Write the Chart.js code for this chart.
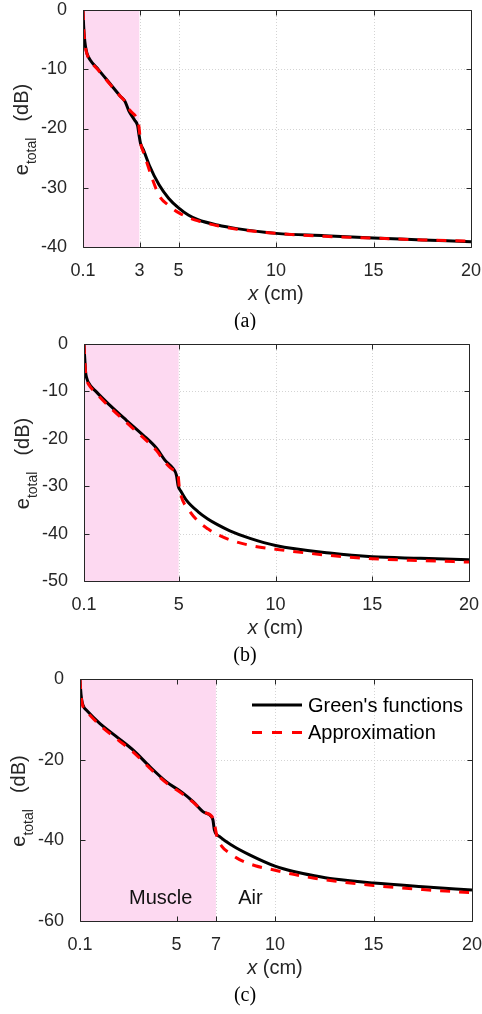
<!doctype html>
<html>

<head>
    <title>e_total vs x</title>
    <script src="https://cdn.jsdelivr.net/npm/chart.js"></script>
    <style>
        body { margin: 0; background: #fff; }
        #figura { position: relative; width: 482px; height: 1014px; background: #fff; }
        .painel { position: absolute; left: 0; width: 482px; }
    </style>
</head>

<body>
    <div id="figura">
        <div class="painel" style="top: 0px;"><canvas id="graficoA" width="482" height="330"></canvas></div>
        <div class="painel" style="top: 330px;"><canvas id="graficoB" width="482" height="340"></canvas></div>
        <div class="painel" style="top: 670px;"><canvas id="graficoC" width="482" height="344"></canvas></div>
    </div>

    <script>
    // eixos
    const xTicksA = [0.1, 3, 5, 10, 15, 20];
    const xTicksB = [0.1, 5, 10, 15, 20];
    const xTicksC = [0.1, 5, 7, 10, 15, 20];
    const yMinimos = [-40, -50, -60];
    const yPassos = [10, 10, 20];
    const espessuraMusculo = [3, 5, 7];   // cm de músculo em cada caso

    // (a) músculo de 3 cm
    const greenXA = [0.1, 0.13, 0.17, 0.22, 0.3, 0.46, 0.9, 1.5, 2.0, 2.25, 2.45, 2.75, 2.9, 2.97, 3.05, 3.2, 3.5, 4.0, 4.5, 5, 5.5, 6, 7, 8, 10, 12.5, 15, 17.5, 20];
    const greenDbA = [0, -2.5, -4.5, -6.0, -7.3, -8.4, -10.1, -12.5, -14.5, -15.4, -17.0, -18.6, -19.5, -21.0, -22.5, -23.6, -26.2, -29.5, -31.8, -33.4, -34.6, -35.4, -36.3, -36.9, -37.7, -38.1, -38.5, -38.8, -39.1];
    const aproxXA = [0.1, 0.13, 0.17, 0.22, 0.3, 0.46, 0.9, 1.5, 2.0, 2.3, 2.5, 2.85, 2.95, 3.0, 3.05, 3.2, 3.4, 3.7, 4.0, 4.5, 5, 5.5, 6, 7, 8, 10, 12.5, 15, 17.5, 20];
    const aproxDbA = [0, -2.6, -4.7, -6.2, -7.4, -8.5, -10.2, -12.6, -14.5, -15.6, -16.9, -18.2, -19.2, -20.6, -22.3, -24.0, -26.0, -28.9, -31.3, -33.0, -34.2, -35.0, -35.6, -36.4, -37.0, -37.7, -38.2, -38.5, -38.8, -39.0];

    // (b) músculo de 5 cm
    const greenXB = [0.1, 0.13, 0.16, 0.19, 0.25, 0.31, 0.74, 1.43, 2.29, 3.15, 3.85, 4.28, 4.71, 4.88, 4.97, 5.1, 5.4, 6.0, 6.5, 7.0, 7.64, 8.68, 10, 12.8, 15, 17.5, 20];
    const greenDbB = [0, -2.5, -4.5, -6.2, -7.3, -8.0, -10.1, -12.9, -16.1, -19.2, -22.0, -24.5, -26.3, -27.7, -30.0, -31.0, -33.0, -35.4, -36.9, -38.1, -39.4, -41.0, -42.5, -44.1, -44.9, -45.2, -45.5];
    const aproxXB = [0.1, 0.13, 0.16, 0.19, 0.25, 0.35, 0.75, 1.45, 2.3, 3.15, 3.85, 4.3, 4.75, 4.95, 5.02, 5.1, 5.55, 6.0, 6.5, 7.0, 7.7, 8.7, 10, 12.8, 15, 17.5, 20];
    const aproxDbB = [0, -2.6, -4.7, -6.5, -7.7, -8.6, -10.5, -13.4, -16.6, -19.7, -22.5, -25.0, -26.6, -27.2, -30.0, -31.8, -35.2, -37.4, -39.0, -40.2, -41.4, -42.5, -43.3, -44.6, -45.3, -45.7, -46.0];

    // (c) músculo de 7 cm
    const greenXC = [0.1, 0.13, 0.17, 0.22, 0.3, 0.42, 1.1, 1.95, 2.79, 3.64, 4.49, 5.33, 5.84, 6.34, 6.77, 6.85, 6.92, 7.19, 7.87, 8.71, 10, 11, 12, 13, 15, 17.5, 20];
    const greenDbC = [0, -2.5, -4.6, -6.0, -7.0, -7.7, -11.0, -14.3, -17.6, -21.7, -25.5, -28.3, -30.4, -32.9, -34.1, -35.0, -37.4, -39.1, -41.4, -43.6, -46.4, -47.8, -48.8, -49.6, -50.6, -51.5, -52.3];
    const aproxXC = [0.1, 0.13, 0.17, 0.22, 0.3, 0.45, 1.1, 1.95, 2.8, 3.64, 4.5, 5.33, 5.9, 6.4, 6.85, 6.95, 7.05, 7.3, 7.7, 8.2, 9, 10, 11, 12, 13, 15, 17.5, 20];
    const aproxDbC = [0, -2.6, -4.8, -6.3, -7.4, -8.2, -11.4, -14.8, -18.1, -22.1, -25.8, -28.6, -30.8, -33.0, -34.5, -36.5, -39.0, -41.5, -43.2, -44.8, -46.3, -47.4, -48.5, -49.4, -50.1, -51.2, -52.2, -53.0];

    const FONTE = "'Liberation Sans', Arial, sans-serif";
    const COR_EIXO = '#262626';
    const COR_GRADE = '#d4d4d4';
    const ROSA = 'rgb(253, 217, 241)';

    function pares(xs, ys) {
        return xs.map((x, i) => ({ x: x, y: ys[i] }));
    }

    // grade pontilhada, caixa com ticks para dentro, títulos e legenda (estilo MATLAB)
    const decoracao = {
        id: 'decoracao',
        beforeDatasetsDraw(chart) {
            const { ctx, chartArea: a, scales: { x, y } } = chart;
            ctx.save();
            ctx.strokeStyle = COR_GRADE;
            ctx.lineWidth = 1;
            ctx.setLineDash([1, 2]);
            ctx.beginPath();
            x.ticks.forEach(t => {
                if (t.value <= x.min || t.value >= x.max) return;
                const px = Math.round(x.getPixelForValue(t.value)) + 0.5;
                ctx.moveTo(px, a.top);
                ctx.lineTo(px, a.bottom);
            });
            y.ticks.forEach(t => {
                if (t.value <= y.min || t.value >= y.max) return;
                const py = Math.round(y.getPixelForValue(t.value)) + 0.5;
                ctx.moveTo(a.left, py);
                ctx.lineTo(a.right, py);
            });
            ctx.stroke();
            ctx.restore();
        },
        afterDraw(chart, args, opts) {
            const { ctx, chartArea: a, scales: { x, y } } = chart;
            const L = Math.round(a.left) + 0.5, R = Math.round(a.right) + 0.5;
            const T = Math.round(a.top) + 0.5, B = Math.round(a.bottom) + 0.5;
            ctx.save();

            // caixa e ticks
            ctx.strokeStyle = COR_EIXO;
            ctx.lineWidth = 1;
            ctx.beginPath();
            ctx.rect(L, T, R - L, B - T);
            x.ticks.forEach(t => {
                const px = Math.round(x.getPixelForValue(t.value)) + 0.5;
                ctx.moveTo(px, B); ctx.lineTo(px, B - 5);
                ctx.moveTo(px, T); ctx.lineTo(px, T + 5);
            });
            y.ticks.forEach(t => {
                const py = Math.round(y.getPixelForValue(t.value)) + 0.5;
                ctx.moveTo(L, py); ctx.lineTo(L + 5, py);
                ctx.moveTo(R, py); ctx.lineTo(R - 5, py);
            });
            ctx.stroke();

            ctx.fillStyle = COR_EIXO;
            ctx.textBaseline = 'alphabetic';

            // título do eixo y: e_total (dB)
            ctx.save();
            ctx.translate(a.left - 55, (a.top + a.bottom) / 2 + 1);
            ctx.rotate(-Math.PI / 2);
            ctx.font = '20px ' + FONTE;
            const wE = ctx.measureText('e').width;
            const wDb = ctx.measureText('(dB)').width;
            ctx.font = '14px ' + FONTE;
            const wSub = ctx.measureText('total').width;
            const folga = 16;
            let s = -(wE + wSub + folga + wDb) / 2;
            ctx.textAlign = 'left';
            ctx.font = '20px ' + FONTE;
            ctx.fillText('e', s, 0);
            s += wE;
            ctx.font = '14px ' + FONTE;
            ctx.fillText('total', s, 8);
            s += wSub + folga;
            ctx.font = '20px ' + FONTE;
            ctx.fillText('(dB)', s, 0);
            ctx.restore();

            // título do eixo x: x (cm)
            ctx.font = 'italic 20px ' + FONTE;
            const wX = ctx.measureText('x').width;
            ctx.font = '20px ' + FONTE;
            const wCm = ctx.measureText(' (cm)').width;
            let sx = (a.left + a.right) / 2 - 1 - (wX + wCm) / 2;
            ctx.textAlign = 'left';
            ctx.font = 'italic 20px ' + FONTE;
            ctx.fillText('x', sx, a.bottom + 53);
            ctx.font = '20px ' + FONTE;
            ctx.fillText(' (cm)', sx + wX, a.bottom + 53);

            // legenda da figura
            ctx.fillStyle = '#000';
            ctx.textAlign = 'center';
            ctx.font = "20px 'Liberation Serif', 'Times New Roman', serif";
            ctx.fillText(opts.legenda, 245, a.bottom + 80);

            // nomes das regiões
            if (opts.regioes) {
                ctx.font = '20px ' + FONTE;
                ctx.fillStyle = '#111';
                ctx.textAlign = 'center';
                ctx.textBaseline = 'middle';
                opts.regioes.forEach(r => {
                    ctx.fillText(r.texto, x.getPixelForValue(r.x), y.getPixelForValue(r.y));
                });
            }

            // legenda das curvas
            if (opts.mostrarLegenda) {
                ctx.textAlign = 'left';
                ctx.textBaseline = 'middle';
                ctx.font = '20px ' + FONTE;
                [1, 2].forEach((idx, linha) => {
                    const ds = chart.data.datasets[idx];
                    const ly = a.top + 26 + linha * 27.5;
                    ctx.strokeStyle = ds.borderColor;
                    ctx.lineWidth = 3;
                    ctx.setLineDash(idx === 2 ? [10, 10] : []);
                    ctx.beginPath();
                    ctx.moveTo(a.right - 220, ly);
                    ctx.lineTo(a.right - 170, ly);
                    ctx.stroke();
                    ctx.setLineDash([]);
                    ctx.fillStyle = '#000';
                    ctx.fillText(ds.label, a.right - 164, ly + 1);
                });
            }
            ctx.restore();
        }
    };

    function criarGrafico(id, cfg) {
        const altura = document.getElementById(id).height;
        return new Chart(document.getElementById(id).getContext('2d'), {
            type: 'line',
            data: {
                datasets: [
                    {
                        label: 'Músculo',
                        data: [{ x: 0.1, y: 0 }, { x: cfg.musculo, y: 0 }],
                        fill: 'start',
                        backgroundColor: ROSA,
                        borderWidth: 0,
                        pointRadius: 0,
                        order: 3
                    },
                    {
                        label: "Green's functions",
                        data: pares(cfg.greenX, cfg.greenDb),
                        borderColor: '#000000',
                        borderWidth: 3,
                        pointRadius: 0,
                        cubicInterpolationMode: 'monotone',
                        fill: false,
                        order: 2
                    },
                    {
                        label: 'Approximation',
                        data: pares(cfg.aproxX, cfg.aproxDb),
                        borderColor: '#ff0000',
                        borderWidth: 3,
                        borderDash: [10, 9],
                        pointRadius: 0,
                        cubicInterpolationMode: 'monotone',
                        fill: false,
                        order: 1
                    }
                ]
            },
            options: {
                responsive: false,
                animation: false,
                devicePixelRatio: 1,
                layout: {
                    padding: { top: cfg.area.top, right: 482 - cfg.area.right, left: 0, bottom: 0 }
                },
                plugins: {
                    legend: { display: false },
                    tooltip: { enabled: false },
                    decoracao: {
                        legenda: cfg.legenda,
                        mostrarLegenda: cfg.mostrarLegenda,
                        regioes: cfg.regioes
                    }
                },
                scales: {
                    x: {
                        type: 'linear',
                        min: 0.1,
                        max: 20,
                        afterBuildTicks: scale => {
                            scale.ticks = cfg.xTicks.map(v => ({ value: v }));
                        },
                        afterFit: scale => {
                            scale.height = altura - cfg.area.bottom;
                            scale.paddingLeft = 0;
                            scale.paddingRight = 0;
                        },
                        ticks: {
                            autoSkip: false,
                            maxRotation: 0,
                            padding: 5,
                            color: COR_EIXO,
                            font: { family: FONTE, size: 18 },
                            callback: v => String(v)
                        },
                        grid: { display: false },
                        border: { display: false }
                    },
                    y: {
                        min: cfg.yMin,
                        max: 0,
                        ticks: {
                            stepSize: cfg.yPasso,
                            padding: 8,
                            color: COR_EIXO,
                            font: { family: FONTE, size: 18 }
                        },
                        afterFit: scale => {
                            scale.width = cfg.area.left;
                            scale.paddingTop = 0;
                            scale.paddingBottom = 0;
                        },
                        grid: { display: false },
                        border: { display: false }
                    }
                }
            },
            plugins: [decoracao]
        });
    }

    criarGrafico('graficoA', {
        area: { left: 83, top: 10, right: 471, bottom: 247 },
        xTicks: xTicksA, yMin: yMinimos[0], yPasso: yPassos[0], musculo: espessuraMusculo[0],
        greenX: greenXA, greenDb: greenDbA, aproxX: aproxXA, aproxDb: aproxDbA,
        legenda: '(a)'
    });

    criarGrafico('graficoB', {
        area: { left: 84, top: 14, right: 469, bottom: 251 },
        xTicks: xTicksB, yMin: yMinimos[1], yPasso: yPassos[1], musculo: espessuraMusculo[1],
        greenX: greenXB, greenDb: greenDbB, aproxX: aproxXB, aproxDb: aproxDbB,
        legenda: '(b)'
    });

    criarGrafico('graficoC', {
        area: { left: 80, top: 9, right: 472, bottom: 251 },
        xTicks: xTicksC, yMin: yMinimos[2], yPasso: yPassos[2], musculo: espessuraMusculo[2],
        greenX: greenXC, greenDb: greenDbC, aproxX: aproxXC, aproxDb: aproxDbC,
        legenda: '(c)',
        mostrarLegenda: true,
        regioes: [
            { texto: 'Muscle', x: 4.2, y: -54.5 },
            { texto: 'Air', x: 8.75, y: -54.5 }
        ]
    });
    </script>
</body>

</html>
